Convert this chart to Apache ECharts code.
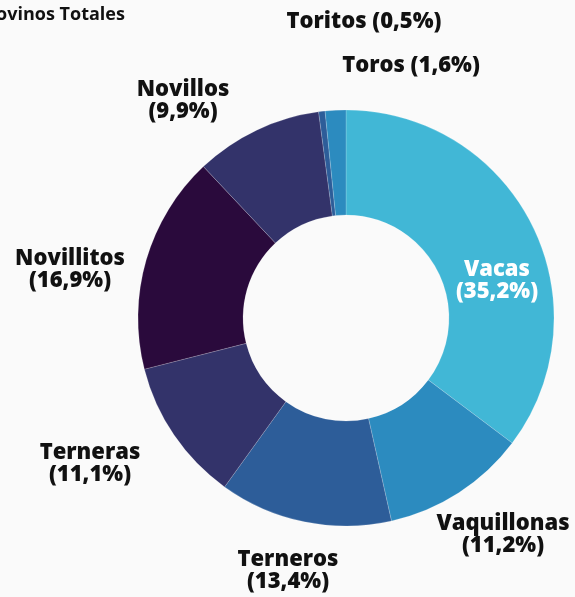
<!DOCTYPE html>
<html>
<head>
<meta charset="utf-8">
<script src="https://cdn.jsdelivr.net/npm/echarts@6/dist/echarts.min.js"></script>
<style>
  html, body { margin: 0; padding: 0; background: #fafafa; }
  #chart { width: 575px; height: 597px; }
</style>
</head>
<body>
<div id="chart"></div>
<script>
// Existencias bovinas por categoría (%)
var categories = ['Vacas', 'Vaquillonas', 'Terneros', 'Terneras', 'Novillitos', 'Novillos', 'Toritos', 'Toros'];
var shares = [35.2, 11.2, 13.4, 11.1, 16.9, 9.9, 0.5, 1.6];
var colors = ['#41b7d6', '#2c8bbf', '#2d5d99', '#33336a', '#2a0a3c', '#33336a', '#2d5d99', '#2c8bbf'];

// label anchors, relative to the pie centre (label centre)
var labelSpots = [[151, -37], [157, 217], [-58, 253], [-256, 146], [-276, -48], [-163, -217], [18, -296], [65, -252]];

var cx = 346, cy = 318;
var chart = echarts.init(document.getElementById('chart'));

function fmt(v) {
    return v.toFixed(1).replace('.', ',');
}

var pieData = categories.map(function(name, i) {
    var item = { name: name, value: shares[i], itemStyle: { color: colors[i] } };
    if (i == 0) {
        item.label = { color: '#ffffff' };
    }
    return item;
});

chart.setOption({
    backgroundColor: '#fafafa',
    animation: false,
    title: {
        text: 'Bovinos Totales',
        left: -21,
        top: 1,
        textStyle: { fontFamily: 'Open Sans', fontWeight: 'bold', fontSize: 18, color: '#111111' }
    },
    series: [{
        type: 'pie',
        center: [cx, cy],
        radius: [103, 208],
        startAngle: 90,
        clockwise: true,
        avoidLabelOverlap: false,
        itemStyle: { borderColor: 'rgba(255,255,255,0.35)', borderWidth: 0.5 },
        label: {
            show: true,
            position: 'outside',
            fontFamily: 'Open Sans',
            fontWeight: 800,
            fontSize: 22,
            lineHeight: 22,
            color: '#111111',
            align: 'center',
            overflow: 'none',
            formatter: function(p) {
                var sep = p.value < 2 ? ' ' : '\n';
                return p.name + sep + '(' + fmt(p.value) + '%)';
            }
        },
        labelLine: { show: false },
        labelLayout: function(p) {
            var s = labelSpots[p.dataIndex];
            return { x: cx + s[0], y: cy + s[1], align: 'center', verticalAlign: 'middle' };
        },
        data: pieData
    }]
});
</script>
</body>
</html>
